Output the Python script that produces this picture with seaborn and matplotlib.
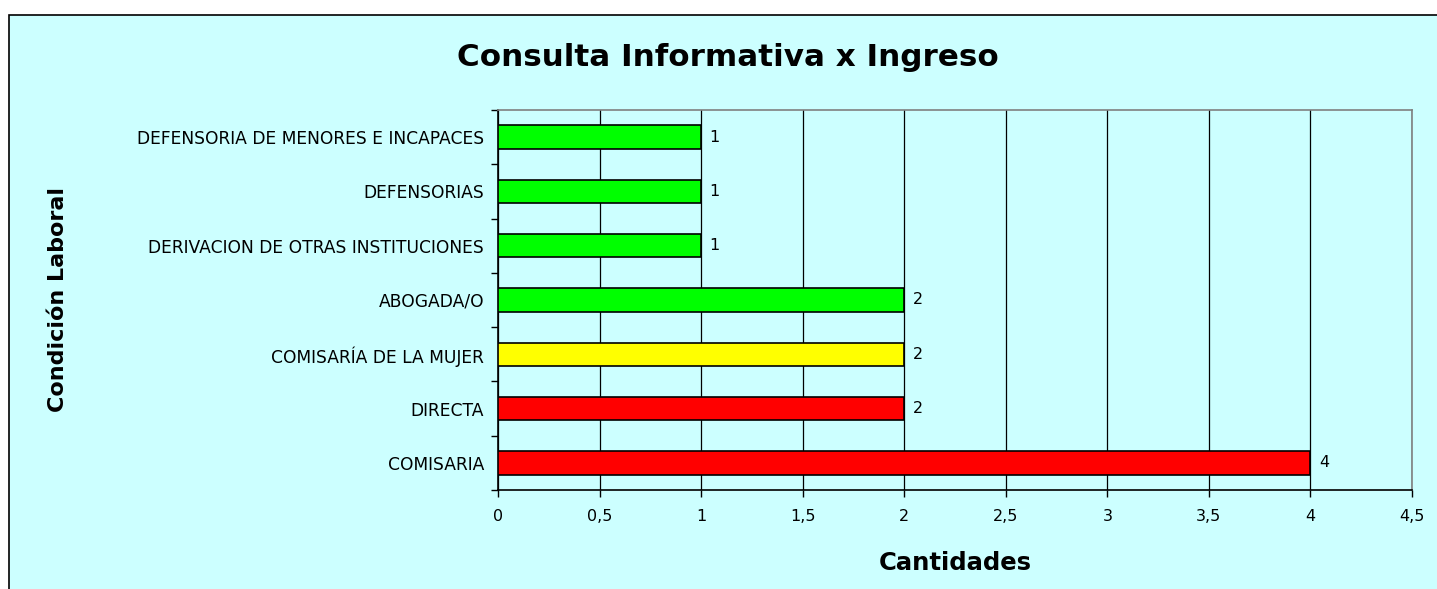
import matplotlib.pyplot as plt
import matplotlib.patches as mpatches
from matplotlib.ticker import FixedLocator, FuncFormatter
import seaborn as sns
import pandas as pd

categorias = [
    "DEFENSORIA DE MENORES E INCAPACES",
    "DEFENSORIAS",
    "DERIVACION DE OTRAS INSTITUCIONES",
    "ABOGADA/O",
    "COMISARÍA DE LA MUJER",
    "DIRECTA",
    "COMISARIA",
]
cantidades = [1, 1, 1, 2, 2, 2, 4]
colores = ["#00FF00", "#00FF00", "#00FF00", "#00FF00", "#FFFF00", "#FF0000", "#FF0000"]

sns.set_style("white")
plt.rcParams["font.family"] = ["DejaVu Sans"]
plt.rcParams["text.color"] = "black"
plt.rcParams["xtick.color"] = "black"
plt.rcParams["ytick.color"] = "black"
plt.rcParams["axes.labelcolor"] = "black"

W, H = 1437, 589
fig = plt.figure(figsize=(W / 100, H / 100), dpi=100, facecolor="white")

# chart area background
bg = fig.add_axes([0, 0, 1, 1], zorder=-1)
bg.set_axis_off()
bg.set_xlim(0, W)
bg.set_ylim(H, 0)
bg.add_patch(mpatches.Rectangle((9, 15), W, H, facecolor="#CCFFFF",
                                edgecolor="black", linewidth=1.2))

ax = fig.add_axes([498 / W, 1 - 490 / H, (1412 - 498) / W, (490 - 110) / H])
ax.set_facecolor("#CCFFFF")

df = pd.DataFrame({"cat": categorias, "val": cantidades})
sns.barplot(data=df, x="val", y="cat", hue="cat", palette=dict(zip(categorias, colores)),
            saturation=1, orient="h", width=0.43, edgecolor="black", linewidth=1.2,
            legend=False, ax=ax, zorder=3)

ax.set_xlim(0, 4.5)
ax.set_ylim(len(categorias) - 0.5, -0.5)
ax.xaxis.set_major_locator(FixedLocator([i * 0.5 for i in range(10)]))
ax.xaxis.set_major_formatter(FuncFormatter(lambda v, p: f"{v:g}".replace(".", ",")))
ax.grid(axis="x", color="black", linewidth=0.9, zorder=0)
ax.set_axisbelow(True)

ax.yaxis.set_minor_locator(FixedLocator([i - 0.5 for i in range(len(categorias) + 1)]))
ax.tick_params(axis="y", which="major", length=0, labelsize=12.3, pad=10)
ax.tick_params(axis="y", which="minor", length=5, width=1, color="black", left=True)
ax.tick_params(axis="x", length=5, width=1, color="black", bottom=True, labelsize=11.5, pad=9)

for s in ["left", "bottom"]:
    ax.spines[s].set_color("black")
    ax.spines[s].set_linewidth(1.2)
for s in ["top", "right"]:
    ax.spines[s].set_color("#808080")
    ax.spines[s].set_linewidth(1.2)

for i, v in enumerate(cantidades):
    ax.annotate(f"{v}", (v, i), xytext=(6, 0), textcoords="offset points",
                ha="left", va="center", fontsize=11.5)

ax.set_xlabel("")
ax.set_ylabel("")
fig.text(955 / W, 1 - 563 / H, "Cantidades", fontsize=17.5, fontweight="bold",
         ha="center", va="center")
fig.text(58 / W, 1 - 300 / H, "Condición Laboral", rotation=90, fontsize=16,
         fontweight="bold", ha="center", va="center")
fig.text(728 / W, 1 - 57 / H, "Consulta Informativa x Ingreso",
         fontsize=22.3, fontweight="bold", ha="center", va="center")

fig.savefig("out.png", dpi=100)
